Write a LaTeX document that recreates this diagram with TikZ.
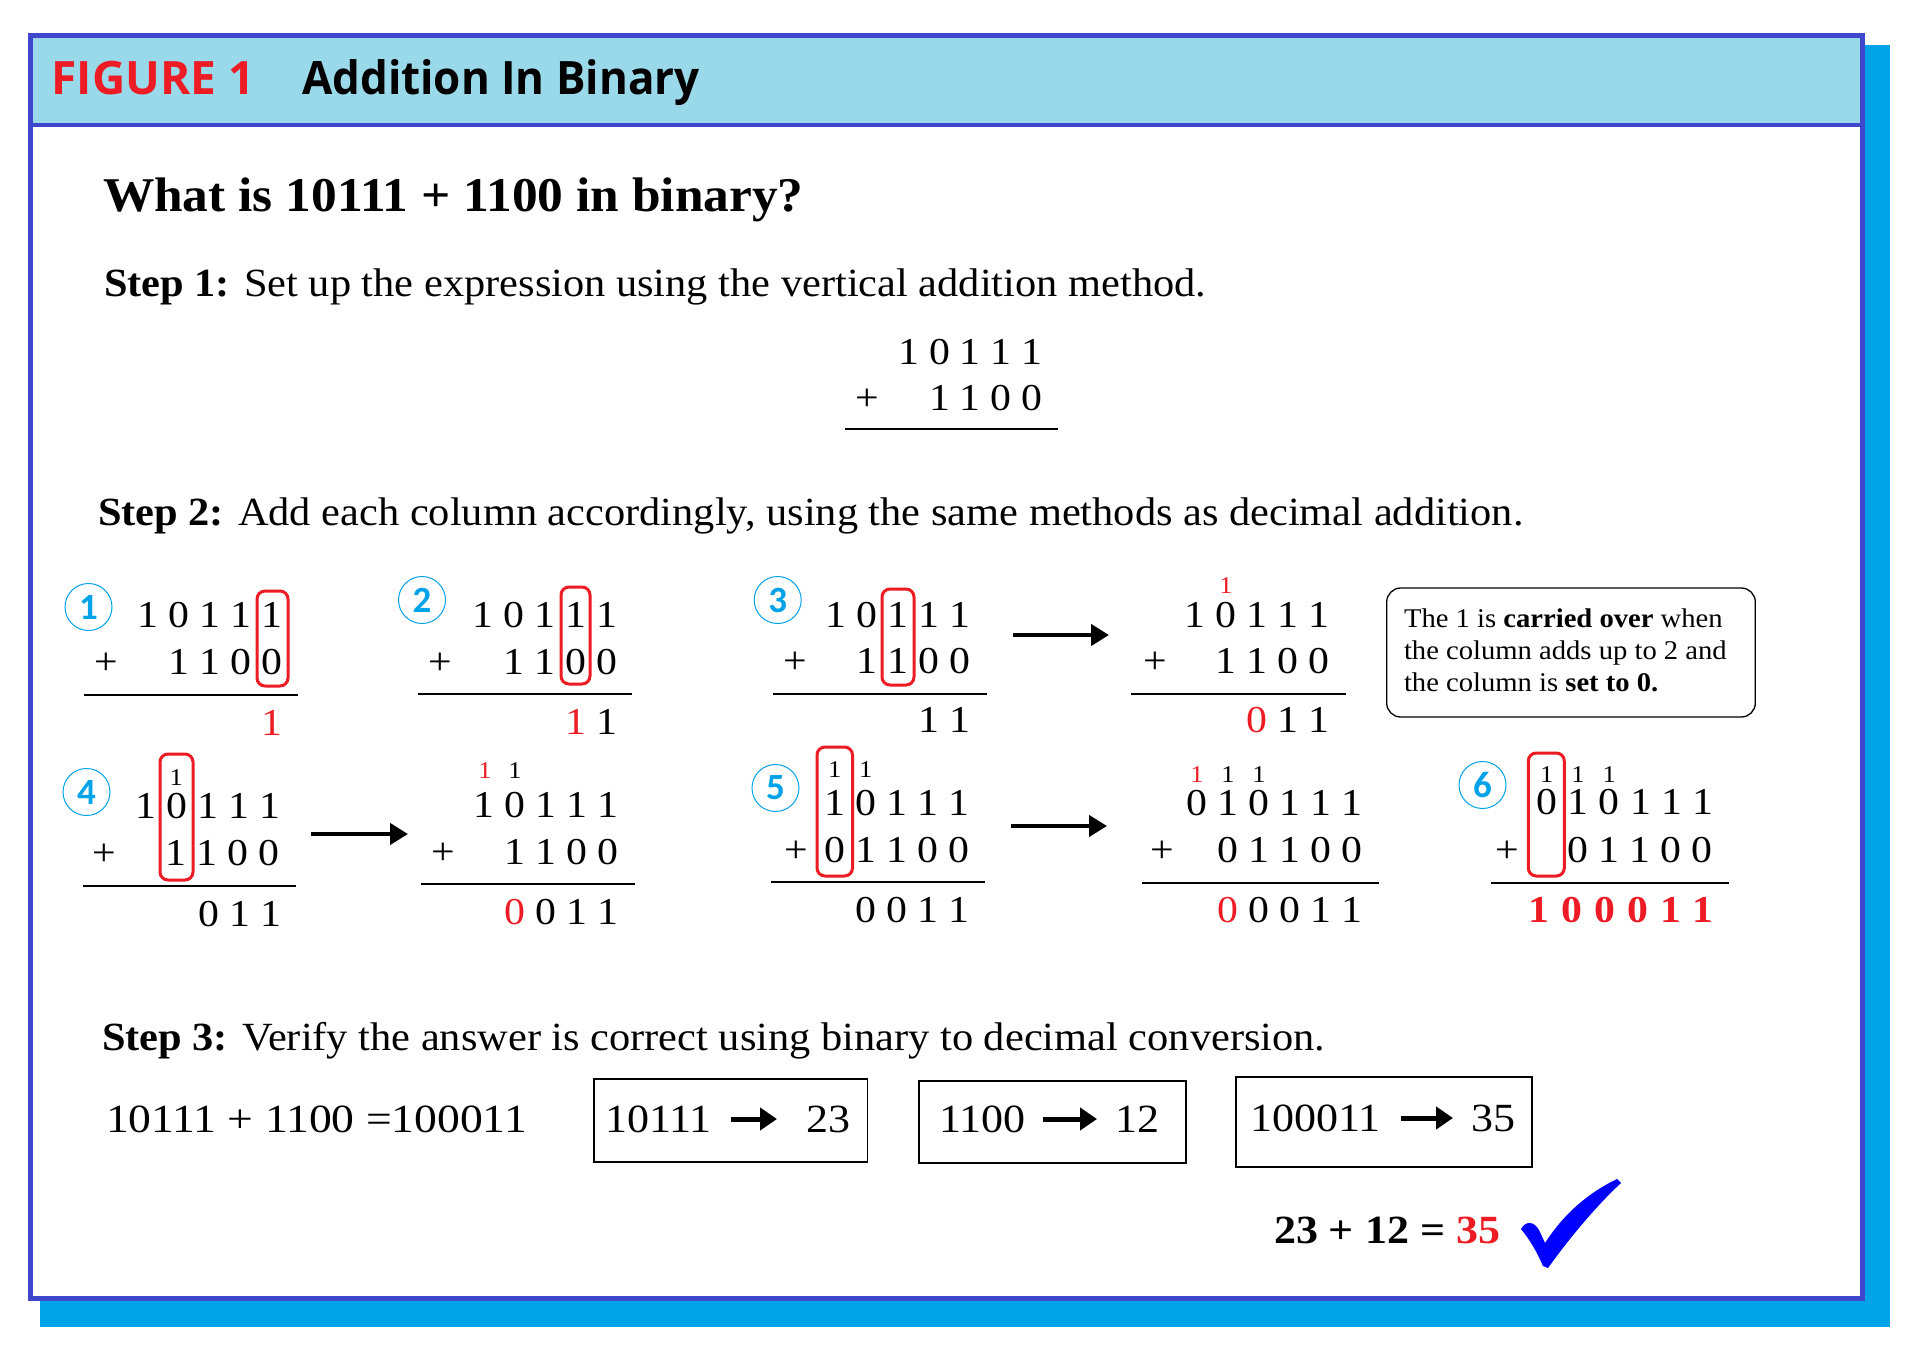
\documentclass[tikz,border=0pt]{standalone}
\usepackage{graphicx}
\usepackage{fontspec}
\setmainfont{Liberation Serif}[FakeStretch=1.06]
\newfontfamily\digfont[FakeStretch=1.1]{Liberation Serif}
\newfontfamily\eqfont[FakeStretch=1.14]{Liberation Serif}
\newfontfamily\headfont{Open Sans}
\newfontfamily\circfont{Carlito}
\usetikzlibrary{arrows.meta}
\definecolor{fred}{HTML}{ED1C24}
\definecolor{fcyan}{HTML}{00A2E8}
\definecolor{hblue}{HTML}{99D9EA}
\definecolor{fborder}{HTML}{3F48CC}
\definecolor{checkblue}{HTML}{0000FF}
\tikzset{
  dg/.style={font=\digfont\fontsize{38}{40}\selectfont, anchor=base, inner sep=0pt, outer sep=0pt},
  cg/.style={font=\digfont\fontsize{24}{26}\selectfont, anchor=base, inner sep=0pt, outer sep=0pt},
  dgb/.style={dg, font=\digfont\bfseries\fontsize{38}{40}\selectfont, text=fred},
  txt/.style={anchor=base west, inner sep=0pt, outer sep=0pt, font=\fontsize{40}{48}\selectfont},
  stxt/.style={anchor=base west, inner sep=0pt, outer sep=0pt, font=\digfont\fontsize{40}{48}\selectfont},
  calltxt/.style={anchor=base west, inner sep=0pt, outer sep=0pt, font=\fontsize{27}{30}\selectfont},
  redbox/.style={draw=fred, line width=3pt, rounded corners=8pt},
  rule/.style={line width=1.5pt},
  numcirc/.style={circle, draw=fcyan, line width=1pt, minimum size=47pt, inner sep=0pt, text=fcyan, font=\circfont\bfseries\fontsize{37}{37}\selectfont},
  bigarrow/.style={line width=4.3pt, -{Triangle[length=18pt,width=21pt]}},
  smallarrow/.style={line width=5pt, -{Triangle[length=17pt,width=22pt]}},
  convbox/.style={draw, line width=1.5pt},
}
\newcommand\drow[5]{\foreach \d [count=\i] in {#5}{\node[dg] (#1\i) at ({#2+(\i-1)*#4},#3) {\d};}}
\newcommand\crow[5]{\foreach \d [count=\i] in {#5}{\node[cg] (#1\i) at ({#2+(\i-1)*#4},#3) {\d};}}
\newcommand\brow[5]{\foreach \d [count=\i] in {#5}{\node[dgb] (#1\i) at ({#2+(\i-1)*#4},#3) {\d};}}
\begin{document}
\begin{tikzpicture}[x=1pt,y=-1pt]
\useasboundingbox (0,0) rectangle (1924,1370);
% frame
\fill[fcyan] (40,45) rectangle (1890,1327);
\fill[white] (30,35.5) rectangle (1862,1298);
\fill[hblue] (30,35.5) rectangle (1862,125.5);
\draw[fborder, line width=5pt] (30,35.5) rectangle (1862,1298);
\draw[fborder, line width=4pt] (30,125.5) -- (1862,125.5);
% header
\node[anchor=base west, inner sep=0pt, font=\headfont\bfseries\fontsize{46}{50}\selectfont, text=fred] (fig) at (51.5,95) {FIGURE 1};
\node[anchor=base west, inner sep=0pt, font=\headfont\bfseries\fontsize{46}{50}\selectfont] (ttl) at (302,95) {\scalebox{0.955}[1]{Addition In Binary}};
% question and steps
\node[txt, font=\bfseries\fontsize{48.5}{58}\selectfont] (q) at (103,211.7) {What is 10111 + 1100 in binary?};
\node[txt] (s1) at (104,296.7) {\textbf{Step 1:} Set up the expression using the vertical addition method.};
\node[txt] (s2) at (98,525) {\textbf{Step 2:} Add each column accordingly, using the same methods as decimal addition.};
\node[txt] (s3) at (102,1050) {\textbf{Step 3:} Verify the answer is correct using binary to decimal conversion.};
% top vertical addition
\drow{t}{909}{364}{30.7}{1,0,1,1,1}
\node[dg] (tplus) at (867,410) {+};
\drow{u}{939.7}{410}{30.7}{1,1,0,0}
\coordinate (tl1) at (845,429);
\coordinate (tl2) at (1058,429);
\draw[rule] (tl1) -- (tl2);
% ---------- panel 1
\node[numcirc] (c1) at (88.5,607) {1};
\draw[redbox] (257,591) rectangle (288,686);
\drow{aa}{147.6}{627}{31}{1,0,1,1,1}
\node[dg] (aplus) at (106.6,674) {+};
\drow{ab}{178.6}{674}{31}{1,1,0,0}
\coordinate (al1) at (84,695); \coordinate (al2) at (298,695);
\draw[rule] (al1) -- (al2);
\node[dg, text=fred] (ar) at (271.6,735) {1};
% ---------- panel 2
\node[numcirc] (c2) at (422,600) {2};
\draw[redbox] (561,587) rectangle (590,684);
\drow{ba}{482.5}{627}{31}{1,0,1,1,1}
\node[dg] (bplus) at (440,674) {+};
\drow{bb}{513.5}{674}{31}{1,1,0,0}
\coordinate (bl1) at (418,694); \coordinate (bl2) at (632,694);
\draw[rule] (bl1) -- (bl2);
\drow{br}{575.5}{734}{31}{{\textcolor{fred}{1}},1}
% ---------- panel 3
\node[numcirc] (c3) at (777.7,600) {3};
\draw[redbox] (882,589) rectangle (914,685);
\drow{ca}{836}{627}{31}{1,0,1,1,1}
\node[dg] (cplus) at (795,673) {+};
\drow{cb}{867}{673}{31}{1,1,0,0}
\coordinate (cl1) at (773,694); \coordinate (cl2) at (987,694);
\draw[rule] (cl1) -- (cl2);
\drow{cr}{929}{732}{31}{1,1}
\coordinate (a3s) at (1013,635); \coordinate (a3e) at (1109,635);
\draw[bigarrow] (a3s) -- (a3e);
% panel 3 result
\crow{dc}{1226}{593}{31}{{\textcolor{fred}{1}}}
\drow{da}{1195}{627}{31}{1,0,1,1,1}
\node[dg] (dplus) at (1155,673) {+};
\drow{db}{1226}{673}{31}{1,1,0,0}
\coordinate (dl1) at (1131,694); \coordinate (dl2) at (1346,694);
\draw[rule] (dl1) -- (dl2);
\drow{dr}{1257}{732}{31}{{\textcolor{fred}{0}},1,1}
% callout
\draw[line width=1.3pt, rounded corners=14pt] (1386.7,588) rectangle (1755.3,717);
\node[calltxt] (k1) at (1404,627) {The 1 is \textbf{carried over} when};
\node[calltxt] (k2) at (1404,659) {the column adds up to 2 and};
\node[calltxt] (k3) at (1404,691) {the column is \textbf{set to 0.}};
% ---------- panel 4
\node[numcirc] (c4) at (86.5,792) {4};
\draw[redbox] (160,754) rectangle (193,880);
\crow{ec}{176.3}{785}{31}{1}
\drow{ea}{145.7}{818}{31}{1,0,1,1,1}
\node[dg] (eplus) at (104.7,865.7) {+};
\drow{eb}{176.3}{865.7}{31}{1,1,0,0}
\coordinate (el1) at (82.5,886); \coordinate (el2) at (295.7,886);
\draw[rule] (el1) -- (el2);
\drow{er}{208.8}{926}{31}{0,1,1}
\coordinate (a4s) at (311,834); \coordinate (a4e) at (408,834);
\draw[bigarrow] (a4s) -- (a4e);
% panel 4 result
\crow{fc}{485}{778}{30}{{\textcolor{fred}{1}},1}
\drow{fa}{484.4}{817}{31}{1,0,1,1,1}
\node[dg] (fplus) at (443.4,864) {+};
\drow{fb}{515.4}{864}{31}{1,1,0,0}
\coordinate (fl1) at (421,884); \coordinate (fl2) at (635,884);
\draw[rule] (fl1) -- (fl2);
\drow{fr}{515.4}{924}{31}{{\textcolor{fred}{0}},0,1,1}
% ---------- panel 5
\node[numcirc] (c5) at (775.5,788) {5};
\draw[redbox] (817,747) rectangle (852.5,876);
\crow{gc}{834.7}{777}{31}{1,1}
\drow{ga}{834.7}{815}{31}{1,0,1,1,1}
\node[dg] (gplus) at (796,862) {+};
\drow{gb}{834.7}{862}{31}{0,1,1,0,0}
\coordinate (gl1) at (771,882); \coordinate (gl2) at (985,882);
\draw[rule] (gl1) -- (gl2);
\drow{gr}{865.7}{922}{31}{0,0,1,1}
\coordinate (a5s) at (1011,826); \coordinate (a5e) at (1107,826);
\draw[bigarrow] (a5s) -- (a5e);
% panel 5 result
\crow{hc}{1197}{782}{31}{{\textcolor{fred}{1}},1,1}
\drow{ha}{1197}{815}{31}{0,1,0,1,1,1}
\node[dg] (hplus) at (1162.6,862) {+};
\drow{hb}{1228}{862}{31}{0,1,1,0,0}
\coordinate (hl1) at (1142,883); \coordinate (hl2) at (1379,883);
\draw[rule] (hl1) -- (hl2);
\drow{hr}{1228}{922}{31}{{\textcolor{fred}{0}},0,0,1,1}
% ---------- panel 6
\node[numcirc] (c6) at (1482.5,785) {6};
\draw[redbox] (1528.3,753) rectangle (1564.3,876);
\crow{ic}{1546.7}{782}{31.3}{1,1,1}
\drow{ia}{1546.7}{814}{31.3}{0,1,0,1,1,1}
\node[dg] (iplus) at (1507.3,862) {+};
\drow{ib}{1578}{862}{31}{0,1,1,0,0}
\coordinate (il1) at (1491,883); \coordinate (il2) at (1729,883);
\draw[rule] (il1) -- (il2);
\brow{ir}{1539.3}{922}{32.8}{1,0,0,0,1,1}
% ---------- step 3
\node[stxt, font=\eqfont\fontsize{40}{48}\selectfont] (eq) at (106,1132.7) {10111 + 1100 =100011};
\draw[convbox] (594,1079) rectangle (867.6,1162);
\node[stxt] (b1a) at (605,1132) {10111};
\node[stxt] (b1b) at (806,1132) {23};
\coordinate (b1s) at (731,1119); \coordinate (b1e) at (777,1119);
\draw[smallarrow] (b1s) -- (b1e);
\draw[convbox] (919,1081) rectangle (1186,1163);
\node[stxt] (b2a) at (939,1132) {1100};
\node[stxt] (b2b) at (1115,1132) {12};
\coordinate (b2s) at (1043,1119); \coordinate (b2e) at (1097,1119);
\draw[smallarrow] (b2s) -- (b2e);
\draw[convbox] (1236,1077) rectangle (1532,1167);
\node[stxt] (b3a) at (1250,1131) {100011};
\node[stxt] (b3b) at (1471,1131) {35};
\coordinate (b3s) at (1401,1118); \coordinate (b3e) at (1453,1118);
\draw[smallarrow] (b3s) -- (b3e);
\node[stxt, font=\digfont\bfseries\fontsize{40}{48}\selectfont] (sum) at (1274,1243) {23 + 12 = \textcolor{fred}{35}};
% check mark
\fill[checkblue] (1521,1229) .. controls (1526,1220) and (1535,1221) .. (1540,1232) -- (1545,1243) .. controls (1565,1212) and (1590,1192) .. (1617,1179) -- (1621,1183) .. controls (1596,1206) and (1568,1240) .. (1548,1268) -- (1543,1266) .. controls (1537,1252) and (1530,1240) .. cycle;
\end{tikzpicture}
\end{document}
